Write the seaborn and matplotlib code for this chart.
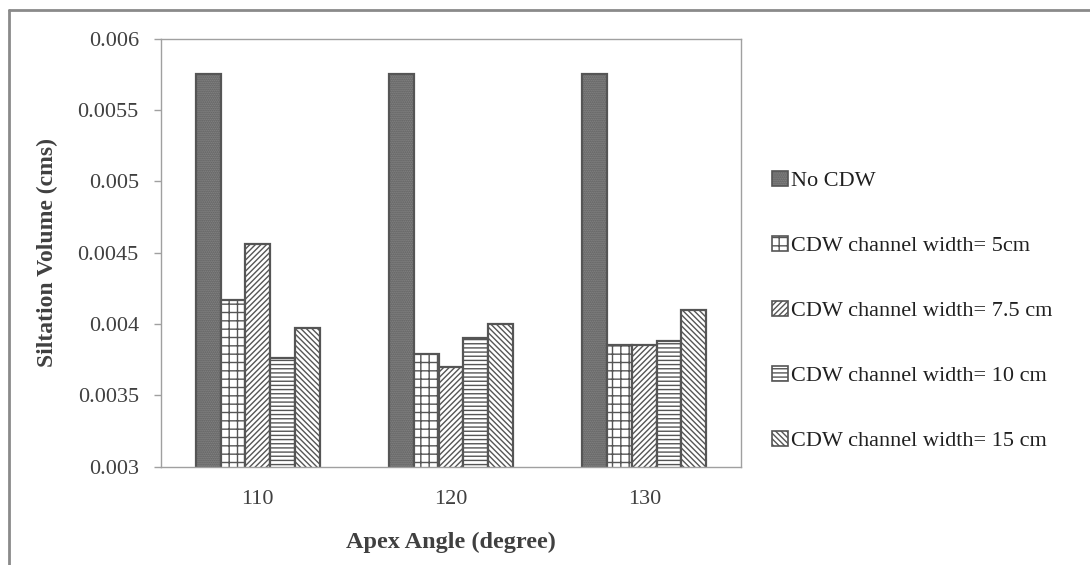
import matplotlib
matplotlib.use("Agg")
import matplotlib.pyplot as plt
import matplotlib.patches as mpatches
import seaborn as sns
import pandas as pd
from matplotlib.lines import Line2D

angles = ["110", "120", "130"]
series = ["No CDW", "CDW channel width= 5cm", "CDW channel width= 7.5 cm",
          "CDW channel width= 10 cm", "CDW channel width= 15 cm"]
no_cdw = [0.00575, 0.00575, 0.00575]
cdw_5 = [0.00417, 0.00379, 0.003855]
cdw_7_5 = [0.00456, 0.00370, 0.003855]
cdw_10 = [0.003765, 0.00390, 0.00388]
cdw_15 = [0.003975, 0.00400, 0.00410]
yticks = [0.003, 0.0035, 0.004, 0.0045, 0.005, 0.0055, 0.006]
ytick_labels = ["0.003", "0.0035", "0.004", "0.0045", "0.005", "0.0055", "0.006"]

values = [no_cdw, cdw_5, cdw_7_5, cdw_10, cdw_15]
rows = []
for s, vals in zip(series, values):
    for a, v in zip(angles, vals):
        rows.append({"angle": a, "series": s, "value": v})
df = pd.DataFrame(rows)

sns.set_theme(style="white")
plt.rcParams["font.family"] = ["Liberation Serif", "DejaVu Serif"]
plt.rcParams["hatch.linewidth"] = 1.0

fig = plt.figure(figsize=(10.9, 5.65), dpi=100)
ax = fig.add_axes([161/1090, 1-466.7/565, (741-161)/1090, (466.7-38.7)/565])

face = ["#8c8c8c", "white", "white", "white", "white"]
hatches = ["........", "++", "//////", "----", "\\\\\\\\\\\\"]
edge = "#555555"

sns.barplot(data=df, x="angle", y="value", hue="series", order=angles,
            hue_order=series, ax=ax, width=0.64, gap=0, errorbar=None,
            palette=["#8c8c8c"] * 5, saturation=1, legend=False)

n = len(angles)
for i, p in enumerate(ax.patches[: n * len(series)]):
    k = i // n
    p.set_facecolor(face[k])
    p.set_hatch(hatches[k])
    p.set_edgecolor(edge)
    p.set_linewidth(1.6)

ax.set_ylim(0.003, 0.006)
ax.set_xlim(-0.5, 2.5)
ax.set_yticks(yticks)
ax.set_yticklabels(ytick_labels)
for sp in ax.spines.values():
    sp.set_color("#a0a0a0")
    sp.set_linewidth(1.0)
ax.tick_params(axis="y", which="both", left=True, length=5, width=1.0,
               color="#a0a0a0", labelsize=16, labelcolor="#404040", pad=11)
ax.tick_params(axis="x", bottom=False, labelsize=16, labelcolor="#404040", pad=11)
ax.set_xlabel("Apex Angle (degree)", fontsize=17.5, fontweight="bold",
              color="#404040", labelpad=16)
ax.set_ylabel("Siltation Volume (cms)", fontsize=17, fontweight="bold",
              color="#404040", labelpad=14)

# legend
handles = []
for k in range(len(series)):
    handles.append(mpatches.Patch(facecolor=face[k], hatch=hatches[k],
                                  edgecolor=edge, linewidth=1.2))
fig.legend(handles, series, loc="center left",
           bbox_to_anchor=(752/1090, 1-311/565), frameon=False,
           fontsize=16, handlelength=0.7, handleheight=0.7, handletextpad=0.15,
           labelspacing=2.0, labelcolor="#202020")

# outer frame (top and left)
fig.add_artist(Line2D([9/1090, 9/1090], [0, 1-10/565], transform=fig.transFigure,
                      color="#8a8a8a", linewidth=2))
fig.add_artist(Line2D([9/1090, 1], [1-10/565, 1-10/565], transform=fig.transFigure,
                      color="#8a8a8a", linewidth=2))

fig.savefig("out.png", dpi=100)
